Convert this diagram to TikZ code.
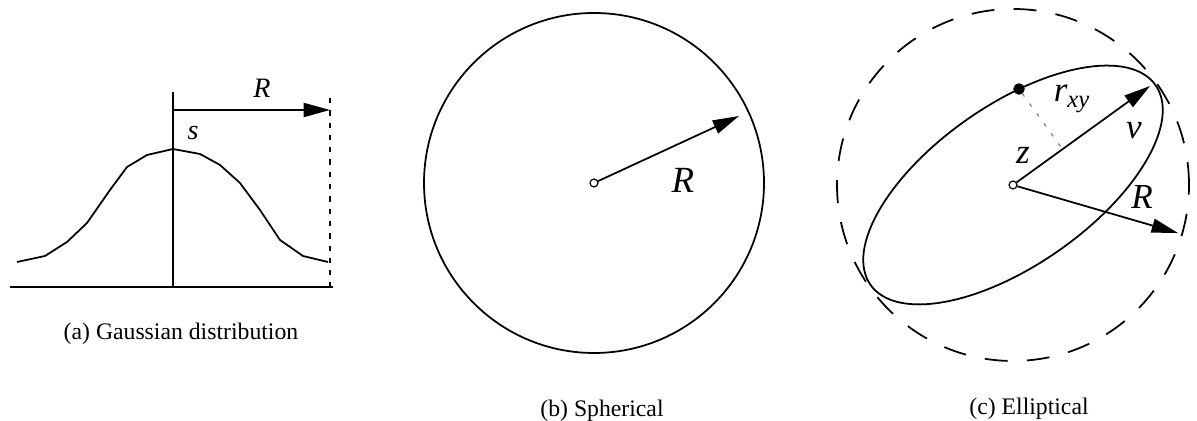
\documentclass[tikz,border=0pt]{standalone}
\usepackage{fontspec}
\setmainfont{Liberation Serif}
\newfontfamily\capfont{Liberation Serif}
\usetikzlibrary{arrows.meta,calc}
\tikzset{
  centre/.style={
    inner sep = 0pt,
    shape = circle,
    minimum size = 4.5pt,
    draw,
    fill = white,
    line width = 0.7pt
  },
  blob/.style={
    inner sep = 0pt,
    shape = circle,
    minimum size = 5.5pt,
    draw,
    fill
  },
  vec/.style={
    -{Triangle[length=15pt,width=8pt]}
  },
  caption/.style={
    font=\capfont\fontsize{13.5}{16}\selectfont
  },
  sym/.style={
    font=\capfont\fontsize{#1}{#1}\selectfont\itshape
  },
  sym/.default=18
}
\begin{document}
\begin{tikzpicture}[x=0.02cm,y=0.02cm,line width=1pt]
  \useasboundingbox (0,0) rectangle (1197,421);
  % (a) gaussian
  \coordinate (axl) at (10,134);
  \coordinate (axr) at (333,134);
  \coordinate (foot) at (173,134);
  \coordinate (top) at (173,329);
  \coordinate (rs) at (173,311);
  \coordinate (re) at (330,311);
  \coordinate (dtop) at (330,323);
  \coordinate (dbot) at (330,134);
  \draw (axl) -- (axr);
  \draw (foot) -- (top);
  \draw[vec] (rs) -- (re);
  \draw[dash pattern=on 3pt off 4pt] (dtop) -- (dbot);
  \draw plot coordinates {(17,159) (45,165) (67,179) (87,198) (110,231)
    (127,254) (147,266) (173,272) (200,267) (220,256) (240,238) (260,211)
    (280,181) (303,165) (328,159)};
  \node[sym=16] (ra) at (262,333) {R};
  \node[sym=16] (sa) at (193,288) {s};
  \node[caption] (capa) at (181,87) {(a) Gaussian distribution};
  % (b) spherical
  \coordinate (cbpos) at (594,238);
  \draw (cbpos) circle [radius=170];
  \node[centre] (cb) at (cbpos) {};
  \coordinate (rb) at (739,305);
  \draw[vec] (cb) -- (rb);
  \node[sym=21] (rbl) at (683,241) {R};
  \node[caption] (capb) at (602,10) {(b) Spherical};
  % (c) elliptical
  \coordinate (ccpos) at (1013,236);
  \draw[dash pattern=on 13pt off 11pt] (ccpos) circle [radius=176];
  \draw[rotate around={35:(ccpos)}] (ccpos) ellipse [x radius=174, y radius=80];
  \node[centre] (cc) at (ccpos) {};
  \coordinate (vc) at (1150,335);
  \coordinate (rc) at (1178,188);
  \node[blob] (pt) at (1019,332) {};
  \draw[vec] (cc) -- (vc);
  \draw[vec] (cc) -- (rc);
  \draw[gray,line width=0.7pt,dash pattern=on 2pt off 5pt] (pt) -- ($(ccpos)!(pt)!(vc)$);
  \node[sym=20] (rxy) at (1072,322) {r\textsubscript{xy}};
  \node[sym=20] (vl) at (1134,290) {v};
  \node[sym=20] (zl) at (1023,266) {z};
  \node[sym=20] (rcl) at (1142,224) {R};
  \node[caption] (capc) at (1029,12) {(c) Elliptical};
\end{tikzpicture}
\end{document}
